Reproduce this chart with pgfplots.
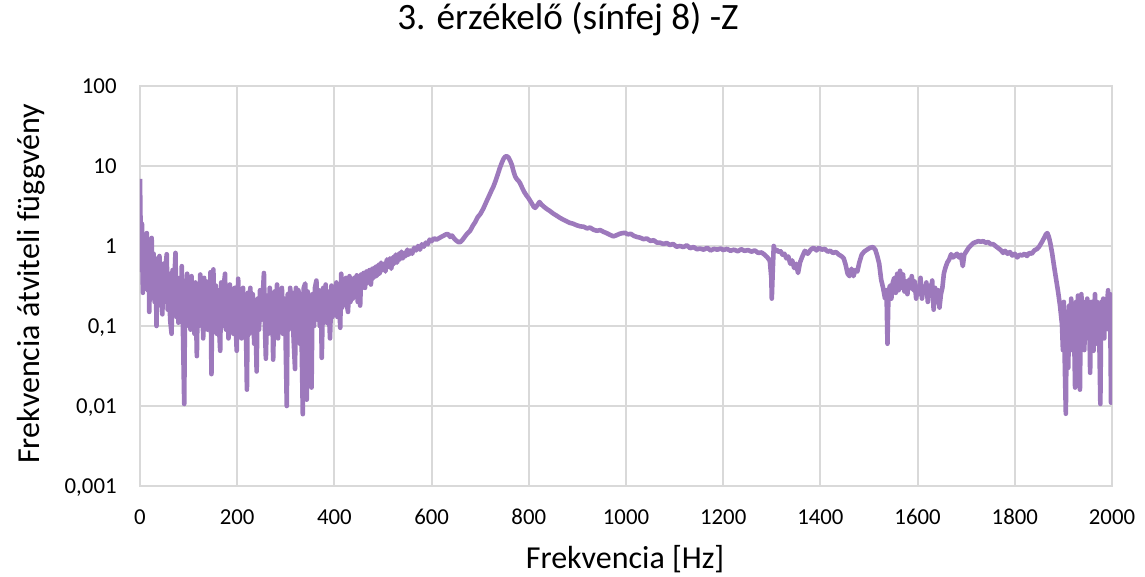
\documentclass[border=0pt]{standalone}
\usepackage{fontspec}
\setmainfont{Carlito}
\usepackage{pgfplots}
\pgfplotsset{compat=1.18}
\definecolor{gridgray}{RGB}{217,217,217}
\definecolor{serie}{RGB}{157,121,188}
\begin{document}
\begin{tikzpicture}
\useasboundingbox (-70pt,-45.5pt) rectangle (502.5pt,243pt);
\begin{axis}[
    width=486pt, height=200pt, scale only axis,
    ymode=log, log basis y=10,
    xmin=0, xmax=2000, ymin=0.001, ymax=100,
    xtick={0,200,...,2000},
    xticklabels={0,200,400,600,800,1000,1200,1400,1600,1800,2000},
    ytick={0.001,0.01,0.1,1,10,100},
    yticklabels={{0,001},{0,01},{0,1},1,10,100},
    grid=major, major grid style={draw=gridgray, line width=1pt},
    axis line style={draw=gridgray, line width=1pt},
    major tick length=0pt, minor tick length=0pt, tick style={draw=none},
    tick label style={font=\fontsize{11.4}{13}\selectfont, inner sep=0pt},
    xticklabel style={anchor=north, yshift=-11.5pt},
    yticklabel style={anchor=east, xshift=-11.5pt, text depth=0pt},
    title={3. érzékelő (sínfej 8) -Z},
    title style={at={(rel axis cs:0.4403,1.11)}, anchor=base, font=\fontsize{18.6}{22}\selectfont, inner sep=0pt},
    xlabel={Frekvencia [Hz]},
    xlabel style={at={(rel axis cs:0.499,-0.205)}, anchor=base, font=\fontsize{16}{19}\selectfont, inner sep=0pt},
    ylabel={Frekvencia átviteli függvény},
    ylabel style={at={(rel axis cs:-0.1039,0.505)}, anchor=base, rotate=0, font=\fontsize{16}{19}\selectfont, inner sep=0pt},
]
% 0-460 Hz: zajos tartomány, utána sima szakasz, 1900 felett ismét zajos
\addplot [serie, line width=2.3pt, line join=round] coordinates {
(0,6.9)(1,2.2)(2,0.5)(4,1.9)(6,0.26)(8,1.3)(10,0.32)(12,1.2)(14,1.45)(16,0.28)(18,0.9)(19,0.15)(22,1.1)(24,1.26)(26,0.3)(28,0.8)(30,0.2)(32,0.7)(34,0.1)(36,0.6)(38,0.18)(40,0.75)(42,0.22)(44,0.5)(46,0.14)(48,0.6)(50,0.2)(52,0.5)(55,0.79)(57,0.16)(60,0.45)(62,0.12)(65,0.08)(67,0.5)(69,0.15)(71,0.4)(73,0.82)(75,0.13)(77,0.35)(79,0.11)(82,0.4)(84,0.15)(86,0.56)(88,0.12)(91,0.0106)(93,0.3)(95,0.1)(97,0.45)(100,0.13)(102,0.38)(104,0.09)(106,0.42)(108,0.14)(110,0.3)(112,0.08)(114,0.35)(117,0.042)(119,0.28)(121,0.1)(124,0.44)(126,0.12)(128,0.33)(130,0.07)(132,0.4)(134,0.11)(137,0.36)(139,0.09)(141,0.3)(143,0.13)(145,0.47)(147,0.025)(149,0.3)(151,0.51)(153,0.1)(156,0.32)(158,0.08)(160,0.28)(162,0.12)(165,0.049)(167,0.35)(170,0.1)(172,0.3)(175,0.45)(177,0.09)(180,0.25)(182,0.07)(185,0.33)(187,0.12)(190,0.27)(192,0.08)(195,0.3)(197,0.1)(199,0.049)(202,0.39)(204,0.09)(207,0.25)(209,0.07)(212,0.3)(214,0.11)(217,0.22)(220,0.016)(222,0.26)(225,0.08)(227,0.3)(230,0.1)(232,0.25)(235,0.06)(237,0.2)(240,0.027)(242,0.22)(245,0.09)(247,0.28)(250,0.12)(252,0.2)(255,0.46)(257,0.1)(259,0.039)(262,0.24)(264,0.08)(267,0.3)(269,0.11)(272,0.22)(274,0.038)(277,0.27)(279,0.09)(282,0.33)(284,0.07)(287,0.25)(289,0.12)(292,0.3)(294,0.08)(297,0.22)(299,0.11)(302,0.01)(304,0.25)(306,0.09)(309,0.3)(311,0.12)(314,0.26)(316,0.07)(319,0.029)(321,0.3)(324,0.1)(326,0.28)(329,0.06)(331,0.25)(335,0.0079)(337,0.3)(340,0.34)(343,0.012)(345,0.27)(348,0.09)(350,0.24)(353,0.017)(355,0.25)(358,0.1)(360,0.3)(363,0.37)(365,0.12)(368,0.28)(370,0.1)(372,0.26)(374,0.04)(377,0.3)(379,0.12)(382,0.33)(384,0.11)(387,0.27)(389,0.14)(391,0.07)(394,0.32)(396,0.13)(399,0.3)(401,0.15)(404,0.35)(406,0.13)(409,0.3)(412,0.095)(414,0.45)(416,0.17)(419,0.38)(421,0.2)(424,0.4)(426,0.18)(428,0.15)(431,0.42)(433,0.2)(436,0.36)(438,0.22)(441,0.4)(443,0.25)(446,0.43)(448,0.2)(450,0.38)(453,0.18)(455,0.44)(458,0.3)(460,0.46)
(463,0.3)(466,0.48)(469,0.35)(472,0.5)(475,0.33)(478,0.52)(481,0.4)(484,0.55)(487,0.42)(490,0.58)(493,0.45)(496,0.62)(499,0.5)(502,0.6)(505,0.48)(508,0.68)(511,0.55)(514,0.7)(517,0.52)(520,0.72)(523,0.6)(526,0.78)(529,0.62)(532,0.8)(535,0.68)(538,0.85)(541,0.7)(544,0.82)(547,0.75)(550,0.9)(553,0.78)(556,0.88)(560,0.8)(564,0.95)(568,0.88)(572,1.0)(576,0.9)(580,1.05)(584,0.98)(588,1.1)(592,1.05)(596,1.2)(600,1.15)(605,1.25)(610,1.2)(615,1.25)(620,1.3)(625,1.35)(630,1.4)(634,1.41)(638,1.3)(642,1.35)(646,1.25)(650,1.18)(655,1.12)(659,1.12)(663,1.18)(668,1.3)(673,1.42)(679,1.54)(685,1.8)(690,2.0)(695,2.3)(700,2.5)(706,2.9)(712,3.5)(718,4.2)(723,4.9)(727,5.5)(732,6.6)(736,7.8)(740,9.3)(744,10.8)(748,12.3)(752,13.2)(755,13.2)(758,12.8)(762,11.5)(765,10.4)(768,8.8)(772,7.4)(775,6.9)(779,6.5)(782,6.1)(786,5.4)(790,4.8)(795,4.3)(799,4.0)(805,3.5)(810,3.1)(813,3.0)(817,3.2)(822,3.55)(826,3.3)(831,3.1)(837,2.9)(843,2.75)(850,2.55)(857,2.4)(864,2.25)(870,2.15)(877,2.05)(884,1.95)(891,1.9)(898,1.82)(906,1.76)(913,1.74)(920,1.66)(926,1.7)(933,1.6)(940,1.55)(947,1.58)(954,1.5)(960,1.45)(967,1.38)(974,1.32)(980,1.36)(987,1.42)(993,1.45)(998,1.46)(1004,1.4)(1010,1.42)(1016,1.34)(1022,1.3)(1029,1.27)(1036,1.22)(1043,1.24)(1050,1.16)(1057,1.18)(1064,1.1)(1070,1.1)(1077,1.06)(1084,1.09)(1090,1.03)(1097,1.06)(1104,0.98)(1111,1.0)(1118,0.97)(1125,1.02)(1132,0.94)(1139,0.97)(1146,0.91)(1152,0.93)(1160,0.9)(1167,0.95)(1174,0.88)(1181,0.92)(1188,0.9)(1195,0.93)(1200,0.89)(1208,0.92)(1215,0.87)(1222,0.9)(1230,0.86)(1237,0.91)(1244,0.87)(1251,0.89)(1258,0.85)(1265,0.88)(1272,0.82)(1279,0.83)(1285,0.78)(1291,0.72)(1296,0.65)(1299,0.4)(1300,0.22)(1302,0.5)(1304,1.0)(1306,0.88)(1310,0.9)(1314,0.84)(1318,0.86)(1322,0.78)(1326,0.8)(1330,0.7)(1334,0.74)(1338,0.6)(1342,0.66)(1346,0.53)(1350,0.6)(1354,0.46)(1358,0.62)(1362,0.72)(1368,0.87)(1374,0.8)(1380,0.9)(1386,0.95)(1392,0.88)(1397,0.95)(1403,0.9)(1409,0.92)(1415,0.85)(1420,0.87)(1426,0.82)(1432,0.84)(1438,0.78)(1444,0.74)(1448,0.7)(1452,0.58)(1456,0.45)(1460,0.42)(1464,0.52)(1468,0.42)(1472,0.5)(1476,0.48)(1480,0.62)(1485,0.78)(1490,0.85)(1496,0.9)(1502,0.95)(1508,0.97)(1513,0.9)(1517,0.75)(1521,0.6)(1525,0.38)(1529,0.3)(1533,0.22)(1536,0.28)(1538,0.06)(1540,0.25)(1543,0.32)(1546,0.22)(1549,0.35)(1552,0.4)(1555,0.26)(1558,0.45)(1561,0.28)(1564,0.49)(1567,0.3)(1570,0.44)(1573,0.27)(1576,0.36)(1579,0.25)(1582,0.38)(1585,0.3)(1588,0.42)(1591,0.28)(1594,0.36)(1597,0.22)(1600,0.3)(1603,0.25)(1606,0.4)(1609,0.22)(1612,0.3)(1615,0.26)(1618,0.35)(1621,0.2)(1624,0.32)(1627,0.24)(1630,0.37)(1633,0.16)(1636,0.3)(1639,0.2)(1642,0.28)(1645,0.17)(1648,0.25)(1651,0.3)(1654,0.45)(1657,0.53)(1661,0.62)(1665,0.68)(1669,0.79)(1673,0.72)(1677,0.76)(1681,0.8)(1685,0.72)(1689,0.78)(1693,0.56)(1696,0.78)(1700,0.85)(1705,0.95)(1710,1.02)(1715,1.09)(1720,1.12)(1725,1.15)(1730,1.13)(1735,1.15)(1740,1.1)(1745,1.12)(1750,1.06)(1756,1.05)(1762,0.98)(1768,0.92)(1772,0.88)(1776,0.82)(1780,0.87)(1785,0.8)(1790,0.84)(1795,0.76)(1800,0.8)(1805,0.72)(1810,0.78)(1815,0.76)(1820,0.8)(1825,0.75)(1830,0.82)(1835,0.8)(1840,0.88)(1846,0.92)(1850,0.98)(1855,1.1)(1860,1.25)(1864,1.4)(1867,1.45)(1870,1.3)(1873,1.09)(1877,0.8)(1880,0.6)(1884,0.42)(1889,0.27)(1893,0.18)(1897,0.106)
(1899,0.05)(1901,0.2)(1903,0.03)(1905,0.008)(1907,0.15)(1909,0.06)(1910,0.03)(1912,0.18)(1914,0.07)(1916,0.22)(1918,0.05)(1920,0.17)(1922,0.09)(1924,0.017)(1926,0.2)(1928,0.08)(1930,0.24)(1932,0.06)(1934,0.016)(1936,0.2)(1937,0.25)(1939,0.08)(1941,0.2)(1943,0.05)(1945,0.15)(1947,0.1)(1949,0.22)(1951,0.07)(1953,0.16)(1955,0.026)(1957,0.2)(1959,0.09)(1962,0.049)(1964,0.18)(1965,0.25)(1967,0.06)(1969,0.2)(1971,0.1)(1973,0.16)(1976,0.0106)(1978,0.2)(1980,0.09)(1982,0.22)(1984,0.07)(1986,0.18)(1988,0.12)(1990,0.2)(1992,0.28)(1994,0.09)(1996,0.25)(1998,0.011)(2000,0.2)
};
\end{axis}
\end{tikzpicture}
\end{document}
